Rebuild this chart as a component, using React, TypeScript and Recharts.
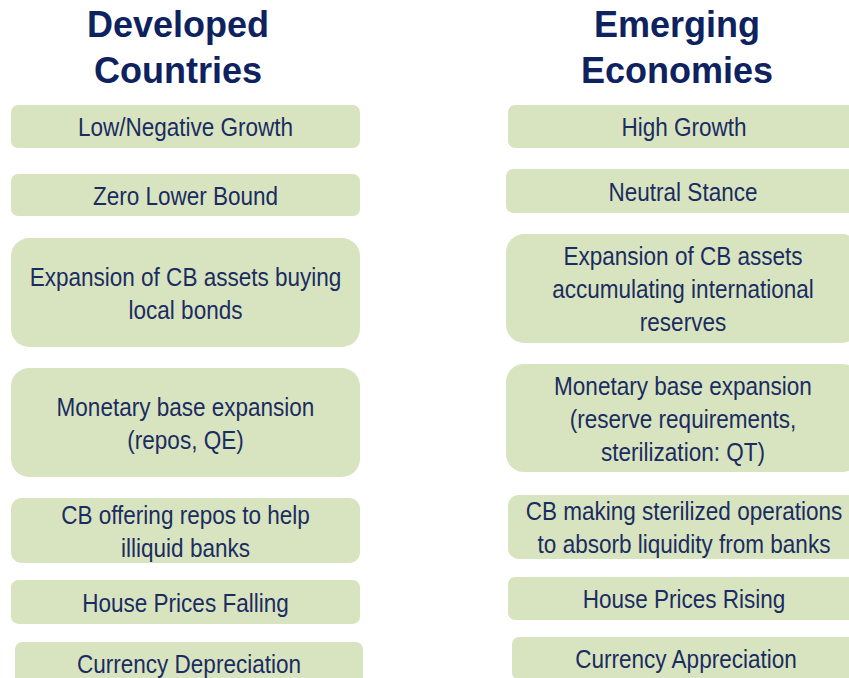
import { ComposedChart, XAxis, YAxis, ReferenceArea, Scatter } from 'recharts';

// column headers
const headerLines = [
  ['Developed', 'Countries'],
  ['Emerging', 'Economies'],
];
const headerLeft = [0, 506];
const headerRight = [356, 848];

// developed countries column
const developedLines = [
  ['Low/Negative Growth'],
  ['Zero Lower Bound'],
  ['Expansion of CB assets buying', 'local bonds'],
  ['Monetary base expansion', '(repos, QE)'],
  ['CB offering repos to help', 'illiquid banks'],
  ['House Prices Falling'],
  ['Currency Depreciation'],
];
const developedTop = [105, 174, 238, 368, 498, 580, 642];
const developedBottom = [148, 216, 347, 477, 563, 624, 685];
const developedLeft = [11, 11, 11, 11, 11, 11, 15];
const developedRight = [360, 360, 360, 360, 360, 360, 363];

// emerging economies column
const emergingLines = [
  ['High Growth'],
  ['Neutral Stance'],
  ['Expansion of CB assets', 'accumulating international', 'reserves'],
  ['Monetary base expansion', '(reserve requirements,', 'sterilization: QT)'],
  ['CB making sterilized operations', 'to absorb liquidity from banks'],
  ['House Prices Rising'],
  ['Currency Appreciation'],
];
const emergingTop = [105, 169, 234, 364, 495, 577, 637];
const emergingBottom = [148, 213, 343, 472, 559, 620, 680];
const emergingLeft = [508, 506, 506, 506, 508, 508, 512];
const emergingRight = [860, 860, 860, 860, 860, 860, 860];

const BOX_FILL = '#d8e4c0';
const TEXT_COLOR = '#1b2c61';
const TITLE_COLOR = '#0e2260';
const FONT = "'Liberation Sans', Arial, sans-serif";

// box centres, only used so the chart has data to lay out
const centres = [
  ...developedTop.map((t, i) => ({
    x: (developedLeft[i] + developedRight[i]) / 2,
    y: (t + developedBottom[i]) / 2,
  })),
  ...emergingTop.map((t, i) => ({
    x: (emergingLeft[i] + Math.min(emergingRight[i], 849)) / 2,
    y: (t + Math.min(emergingBottom[i], 678)) / 2,
  })),
];

function boxShape(lines: string[]) {
  return (props: any) => {
    const { x, y, width, height } = props;
    const r = Math.min(width, height) * 0.167;
    const cx = x + width / 2;
    const cy = y + height / 2;
    const n = lines.length;
    return (
      <g>
        <rect x={x} y={y} width={width} height={height} rx={r} ry={r} fill={BOX_FILL} />
        {lines.map((t, i) => (
          // narrow face: squeeze Liberation Sans horizontally
          <text
            key={i}
            transform={`translate(${cx},${cy + (i - (n - 1) / 2) * 33 + 9.5}) scale(0.85,1)`}
            textAnchor="middle"
            fontFamily={FONT}
            fontSize={26.5}
            fill={TEXT_COLOR}
          >
            {t}
          </text>
        ))}
      </g>
    );
  };
}

function headerShape(lines: string[]) {
  return (props: any) => {
    const { x, width } = props;
    const cx = x + width / 2;
    return (
      <g>
        {lines.map((t, i) => (
          <text
            key={i}
            x={cx}
            y={37 + i * 46}
            textAnchor="middle"
            fontFamily={FONT}
            fontWeight="bold"
            fontSize={36}
            fill={TITLE_COLOR}
          >
            {t}
          </text>
        ))}
      </g>
    );
  };
}

export default function App() {
  return (
    <div style={{ position: 'absolute', left: 0, top: 0, width: 849, height: 678, background: '#fff' }}>
      <ComposedChart width={849} height={678} data={centres} margin={{ top: 0, right: 0, bottom: 0, left: 0 }}>
        <XAxis type="number" dataKey="x" domain={[0, 849]} allowDataOverflow hide />
        <YAxis type="number" dataKey="y" domain={[0, 678]} allowDataOverflow reversed hide />
        <Scatter dataKey="y" fill="none" isAnimationActive={false} shape={() => <g />} />
        {headerLines.map((lines, i) => (
          <ReferenceArea
            key={'h' + i}
            x1={headerLeft[i]}
            x2={headerRight[i]}
            y1={0}
            y2={95}
            ifOverflow="visible"
            shape={headerShape(lines)}
          />
        ))}
        {developedLines.map((lines, i) => (
          <ReferenceArea
            key={'d' + i}
            x1={developedLeft[i]}
            x2={developedRight[i]}
            y1={developedTop[i]}
            y2={developedBottom[i]}
            ifOverflow="visible"
            shape={boxShape(lines)}
          />
        ))}
        {emergingLines.map((lines, i) => (
          <ReferenceArea
            key={'e' + i}
            x1={emergingLeft[i]}
            x2={emergingRight[i]}
            y1={emergingTop[i]}
            y2={emergingBottom[i]}
            ifOverflow="visible"
            shape={boxShape(lines)}
          />
        ))}
      </ComposedChart>
    </div>
  );
}
